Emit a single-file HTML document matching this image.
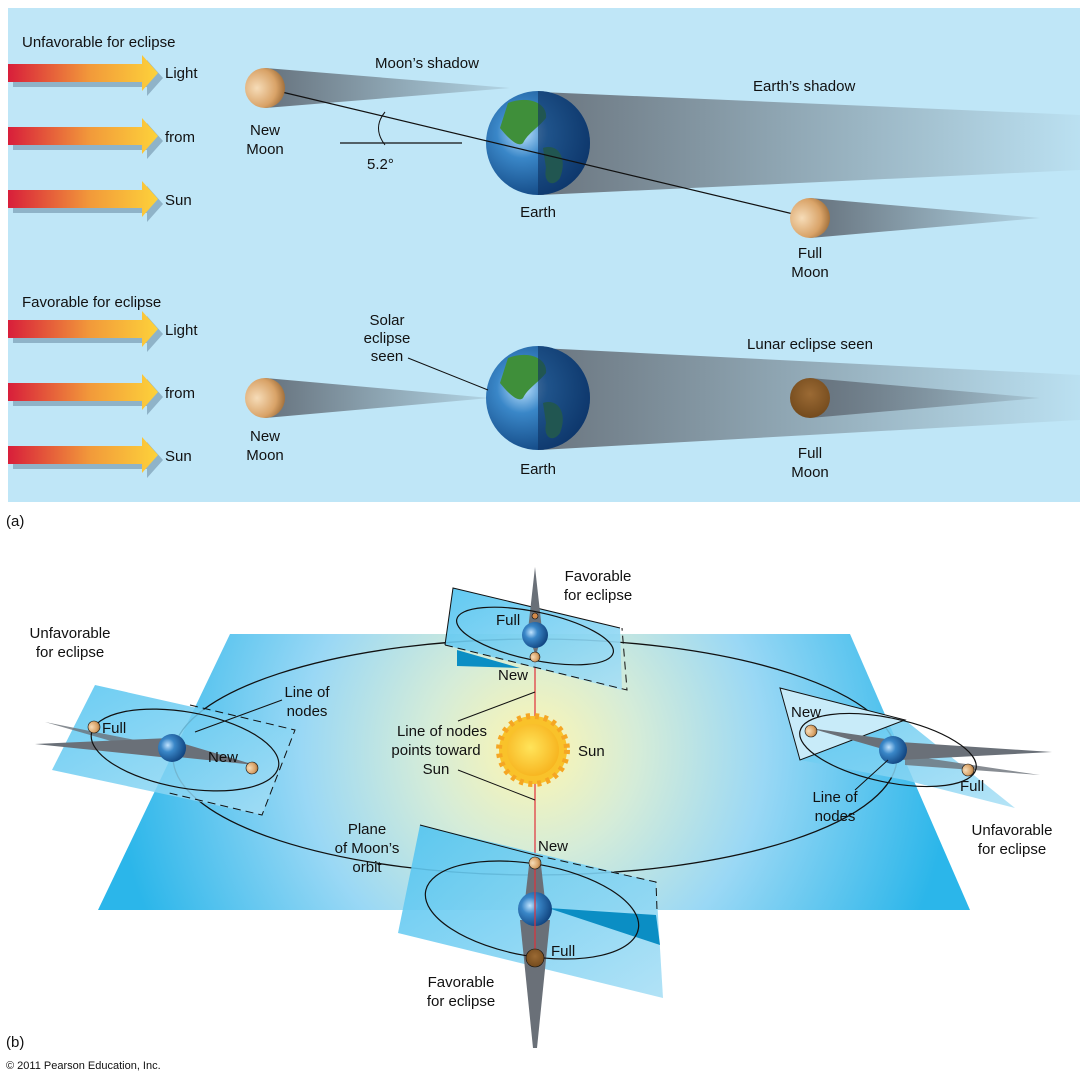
<!DOCTYPE html>
<html><head><meta charset="utf-8"><style>
html,body{margin:0;padding:0;background:#fff}
svg{display:block}
text{font-family:"Liberation Sans",sans-serif;font-size:15px;fill:#111}
</style></head><body>
<svg width="1088" height="1080" viewBox="0 0 1088 1080" xmlns="http://www.w3.org/2000/svg">
<defs>
<linearGradient id="arr" x1="0" x2="1" y1="0" y2="0">
<stop offset="0" stop-color="#d81e3a"/><stop offset="0.55" stop-color="#f29a3a"/><stop offset="1" stop-color="#fdd23a"/></linearGradient>
<radialGradient id="moon" cx="0.3" cy="0.5" r="0.8"><stop offset="0" stop-color="#f6dcb8"/><stop offset="0.6" stop-color="#d9a368"/><stop offset="1" stop-color="#8a5a28"/></radialGradient>
<radialGradient id="moonD" cx="0.5" cy="0.4" r="0.7"><stop offset="0" stop-color="#9b6a34"/><stop offset="1" stop-color="#6d4519"/></radialGradient>
<linearGradient id="shad" x1="0" x2="1"><stop offset="0" stop-color="#66727d"/><stop offset="1" stop-color="#66727d" stop-opacity="0.15"/></linearGradient>
<linearGradient id="eshad" x1="0" x2="1"><stop offset="0" stop-color="#6b7680"/><stop offset="1" stop-color="#6b7680" stop-opacity="0.05"/></linearGradient>
<radialGradient id="earth" cx="0.35" cy="0.4" r="0.7"><stop offset="0" stop-color="#bfe3ff"/><stop offset="0.35" stop-color="#3a87c8"/><stop offset="1" stop-color="#0d3f7a"/></radialGradient>
<radialGradient id="plane" cx="533" cy="750" r="420" gradientUnits="userSpaceOnUse"><stop offset="0" stop-color="#fff6b0"/><stop offset="0.25" stop-color="#d5ecd8"/><stop offset="0.55" stop-color="#9ad8f5"/><stop offset="1" stop-color="#2bb6ea"/></radialGradient>
<radialGradient id="sun" cx="0.45" cy="0.45" r="0.6"><stop offset="0" stop-color="#ffe45a"/><stop offset="1" stop-color="#f7b21c"/></radialGradient>
<linearGradient id="mp" x1="0" x2="1" y1="0" y2="1"><stop offset="0" stop-color="#4fc3f0"/><stop offset="1" stop-color="#a9dff5"/></linearGradient>
<g id="arrow"><polygon points="0,0 134,0 134,-9 150,9 134,27 134,18 0,18" fill="#8fb3c8" transform="translate(5,5)"/><polygon points="0,0 134,0 134,-9 150,9 134,27 134,18 0,18" fill="url(#arr)"/></g>
<g id="bigEarth">
<circle r="52" fill="url(#earth)"/>
<path d="M-30,-40 C-10,-48 10,-40 8,-25 C0,-15 -10,-10 -15,0 C-20,5 -30,-5 -38,-15 Z" fill="#3f8f3a"/>
<path d="M5,5 C20,0 30,15 22,35 C15,45 5,40 8,25 Z" fill="#3f8f3a"/>
<path d="M0,-52 A52,52 0 0 1 0,52 Z" fill="#0d3060" opacity="0.6"/>
</g>
</defs>

<!-- Part (a) -->
<rect x="8" y="8" width="1072" height="494" fill="#bfe6f7"/>
<text x="22" y="47">Unfavorable for eclipse</text>
<use href="#arrow" x="8" y="64"/><use href="#arrow" x="8" y="127"/><use href="#arrow" x="8" y="190"/>
<text x="165" y="78">Light</text><text x="165" y="142">from</text><text x="165" y="205">Sun</text>

<polygon points="540,92 1080,115 1080,170 540,195" fill="url(#eshad)"/>
<polygon points="265,68 510,88 265,108" fill="url(#shad)"/>
<polygon points="810,198 1040,218 810,238" fill="url(#shad)"/>
<use href="#bigEarth" x="538" y="143"/>
<line x1="265" y1="88" x2="810" y2="218" stroke="#111" stroke-width="1.2"/>
<circle cx="265" cy="88" r="20" fill="url(#moon)"/>
<circle cx="810" cy="218" r="20" fill="url(#moon)"/>
<line x1="340" y1="143" x2="462" y2="143" stroke="#111" stroke-width="1.2"/>
<path d="M385,112 Q372,128 385,145" fill="none" stroke="#111"/>
<text x="375" y="68">Moon’s shadow</text>
<text x="753" y="91">Earth’s shadow</text>
<text x="367" y="169">5.2°</text>
<text x="265" y="135" text-anchor="middle">New</text><text x="265" y="154" text-anchor="middle">Moon</text>
<text x="538" y="217" text-anchor="middle">Earth</text>
<text x="810" y="258" text-anchor="middle">Full</text><text x="810" y="277" text-anchor="middle">Moon</text>

<text x="22" y="307">Favorable for eclipse</text>
<use href="#arrow" x="8" y="320"/><use href="#arrow" x="8" y="383"/><use href="#arrow" x="8" y="446"/>
<text x="165" y="335">Light</text><text x="165" y="398">from</text><text x="165" y="461">Sun</text>
<polygon points="540,348 1080,375 1080,420 540,450" fill="url(#eshad)"/>
<polygon points="265,378 490,398 265,418" fill="url(#shad)"/>
<polygon points="810,378 1040,398 810,418" fill="url(#shad)"/>
<use href="#bigEarth" x="538" y="398"/>
<circle cx="265" cy="398" r="20" fill="url(#moon)"/>
<circle cx="810" cy="398" r="20" fill="url(#moonD)"/>
<text x="387" y="325" text-anchor="middle">Solar</text><text x="387" y="343" text-anchor="middle">eclipse</text><text x="387" y="361" text-anchor="middle">seen</text>
<line x1="408" y1="358" x2="488" y2="390" stroke="#111"/>
<text x="810" y="349" text-anchor="middle">Lunar eclipse seen</text>
<text x="265" y="441" text-anchor="middle">New</text><text x="265" y="460" text-anchor="middle">Moon</text>
<text x="538" y="474" text-anchor="middle">Earth</text>
<text x="810" y="458" text-anchor="middle">Full</text><text x="810" y="477" text-anchor="middle">Moon</text>
<text x="6" y="526">(a)</text>

<!-- Part (b) -->
<polygon points="230,634 850,634 970,910 98,910" fill="url(#plane)"/>
<ellipse cx="535" cy="757" rx="362" ry="118" fill="none" stroke="#111" stroke-width="1.3"/>
<line x1="535" y1="595" x2="535" y2="965" stroke="#e0303a" stroke-width="1.2"/>
<g transform="translate(533,750)">
<circle r="34" fill="#f9c22a" stroke="#f5a623" stroke-width="6" stroke-dasharray="4 5"/>
<circle r="26" fill="url(#sun)"/>
</g>
<text x="578" y="756">Sun</text>
<text x="442" y="736" text-anchor="middle">Line of nodes</text>
<text x="436" y="755" text-anchor="middle">points toward</text>
<text x="436" y="774" text-anchor="middle">Sun</text>
<line x1="458" y1="721" x2="535" y2="692" stroke="#111"/>
<line x1="458" y1="770" x2="535" y2="800" stroke="#111"/>

<!-- top moon plane -->
<polygon points="453,588 620,628 622,690 445,645" fill="url(#mp)" opacity="0.9"/>
<polygon points="457,650 520,668 457,666" fill="#0b8ec4"/>
<polyline points="445,645 627,690 622,628" fill="none" stroke="#111" stroke-dasharray="8 5"/>
<polyline points="445,645 453,588 620,628" fill="none" stroke="#111"/>
<polygon points="535,567 528,630 542,630" fill="#6a7078"/>
<polygon points="530,640 540,640 536,656" fill="#6a7078"/>
<ellipse cx="535" cy="636" rx="80" ry="24" transform="rotate(12 535 636)" fill="none" stroke="#111" stroke-width="1.2"/>
<circle cx="535" cy="635" r="13" fill="url(#earth)"/>
<circle cx="535" cy="616" r="3" fill="#d48a4a" stroke="#111" stroke-width="0.6"/>
<circle cx="535" cy="657" r="5" fill="url(#moon)" stroke="#111" stroke-width="0.6"/>
<text x="496" y="625">Full</text>
<text x="498" y="680">New</text>
<text x="598" y="581" text-anchor="middle">Favorable</text><text x="598" y="600" text-anchor="middle">for eclipse</text>

<!-- left moon plane -->
<polygon points="95,685 295,730 262,815 52,770" fill="url(#mp)" opacity="0.85"/>
<polyline points="190,705 295,730 262,815 165,792" fill="none" stroke="#111" stroke-dasharray="8 5"/>
<polygon points="35,744 170,738 170,758" fill="#6a7078"/>
<polygon points="45,722 160,745 160,755" fill="#6a7078" opacity="0.8"/>
<polygon points="178,742 255,765 178,757" fill="#6a7078"/>
<ellipse cx="185" cy="750" rx="95" ry="38" transform="rotate(10 185 750)" fill="none" stroke="#111" stroke-width="1.2"/>
<circle cx="172" cy="748" r="14" fill="url(#earth)"/>
<circle cx="94" cy="727" r="6" fill="url(#moon)" stroke="#111" stroke-width="0.6"/>
<circle cx="252" cy="768" r="6" fill="url(#moon)" stroke="#111" stroke-width="0.6"/>
<text x="102" y="733">Full</text><text x="208" y="762">New</text>
<text x="70" y="638" text-anchor="middle">Unfavorable</text><text x="70" y="657" text-anchor="middle">for eclipse</text>
<text x="307" y="697" text-anchor="middle">Line of</text><text x="307" y="716" text-anchor="middle">nodes</text>
<line x1="282" y1="700" x2="195" y2="732" stroke="#111"/>

<!-- right moon plane -->
<polygon points="780,688 905,720 1015,808 905,780 800,760" fill="url(#mp)" opacity="0.85"/>
<polygon points="780,688 905,720 800,760" fill="#c8ebf9" stroke="#111"/>
<polygon points="810,728 893,740 893,752" fill="#6a7078"/>
<polygon points="900,742 1052,752 900,760" fill="#6a7078"/>
<polygon points="905,755 1040,775 905,765" fill="#6a7078" opacity="0.8"/>
<ellipse cx="888" cy="750" rx="90" ry="32" transform="rotate(12 888 750)" fill="none" stroke="#111" stroke-width="1.2"/>
<circle cx="893" cy="750" r="14" fill="url(#earth)"/>
<circle cx="811" cy="731" r="6" fill="url(#moon)" stroke="#111" stroke-width="0.6"/>
<circle cx="968" cy="770" r="6" fill="url(#moon)" stroke="#111" stroke-width="0.6"/>
<text x="791" y="717">New</text><text x="960" y="791">Full</text>
<text x="835" y="802" text-anchor="middle">Line of</text><text x="835" y="821" text-anchor="middle">nodes</text>
<line x1="855" y1="790" x2="888" y2="760" stroke="#111"/>
<text x="1012" y="835" text-anchor="middle">Unfavorable</text><text x="1012" y="854" text-anchor="middle">for eclipse</text>

<!-- bottom moon plane -->
<polygon points="420,825 656,882 663,998 398,933" fill="url(#mp)" opacity="0.9"/>
<polygon points="548,908 656,915 660,945" fill="#0b8ec4"/>
<polyline points="420,825 535,855" fill="none" stroke="#111"/>
<polyline points="535,855 656,882 657,910" fill="none" stroke="#111" stroke-dasharray="8 5"/>
<polygon points="529,865 541,865 545,900 525,900" fill="#6a7078"/>
<polygon points="520,920 550,920 537,1048 533,1048" fill="#6a7078"/>
<ellipse cx="532" cy="910" rx="108" ry="46" transform="rotate(10 532 910)" fill="none" stroke="#111" stroke-width="1.2"/>
<circle cx="535" cy="909" r="17" fill="url(#earth)"/>
<line x1="535" y1="860" x2="535" y2="960" stroke="#e0303a" stroke-width="1.2"/>
<circle cx="535" cy="863" r="6" fill="url(#moon)" stroke="#111" stroke-width="0.6"/>
<circle cx="535" cy="958" r="9" fill="url(#moonD)" stroke="#111" stroke-width="0.6"/>
<text x="538" y="851">New</text><text x="551" y="956">Full</text>
<text x="367" y="834" text-anchor="middle">Plane</text><text x="367" y="853" text-anchor="middle">of Moon’s</text><text x="367" y="872" text-anchor="middle">orbit</text>
<text x="461" y="987" text-anchor="middle">Favorable</text><text x="461" y="1006" text-anchor="middle">for eclipse</text>

<text x="6" y="1047">(b)</text>
<text x="6" y="1069" style="font-size:11px">© 2011 Pearson Education, Inc.</text>
</svg>
</body></html>
